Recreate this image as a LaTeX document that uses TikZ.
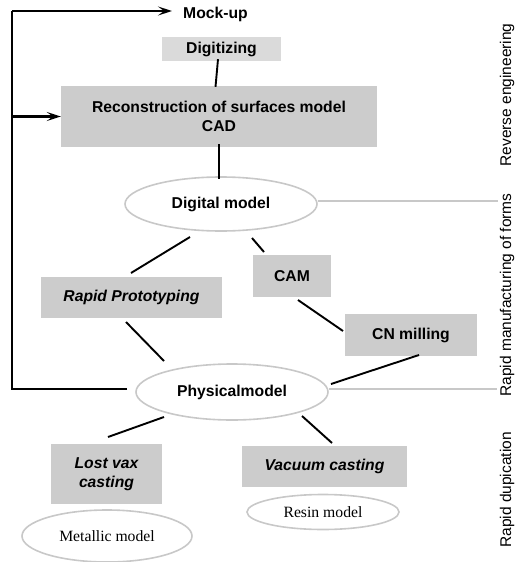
\documentclass[tikz,border=0pt]{standalone}
\usepackage{fontspec}
\setmainfont{Liberation Sans}
\newfontfamily\serifrm{Liberation Serif}
\usetikzlibrary{arrows.meta,shapes.geometric}
\definecolor{boxgray}{HTML}{CCCCCC}
\definecolor{lightbox}{HTML}{DADADA}
\definecolor{linegray}{HTML}{C8C8C8}
\tikzset{
  base/.style={font=\fontsize{15.7}{18.5}\selectfont\bfseries, inner sep=0pt, align=center},
  gbox/.style={base, fill=boxgray},
  ibox/.style={gbox, font=\fontsize{15.7}{19}\selectfont\bfseries\itshape},
  oval/.style={base, ellipse, draw=linegray, line width=1.6pt},
  soval/.style={oval, font=\fontsize{15.7}{18}\selectfont\serifrm},
  conn/.style={line width=1.9pt, black},
  fbline/.style={line width=2.6pt, black},
  tip/.style={-{Stealth[length=14pt,width=9pt,inset=6pt]}},
  gline/.style={line width=2pt, linegray},
  side/.style={font=\fontsize{15.5}{18}\selectfont, rotate=90, inner sep=0pt}
}
\begin{document}
\begin{tikzpicture}[x=1pt,y=-1pt]
\useasboundingbox (0,0) rectangle (514,562);

% nodes
\node[base, anchor=west, inner xsep=11pt] (mock) at (172,14) {Mock-up};
\node[gbox, fill=lightbox, minimum width=119pt, minimum height=24pt] (digit) at (221.5,49) {Digitizing};
\node[gbox, minimum width=316pt, minimum height=61pt] (recon) at (219,116.5) {Reconstruction of surfaces model\\CAD};
\node[oval, minimum width=192pt, minimum height=54pt] (dig) at (221,204) {Digital model};
\node[ibox, minimum width=181pt, minimum height=41pt] (rp) at (131.5,297.5) {Rapid Prototyping};
\node[gbox, minimum width=78pt, minimum height=42pt] (cam) at (292,276) {CAM};
\node[gbox, minimum width=132pt, minimum height=42pt] (cn) at (411,335) {CN milling};
\node[oval, minimum width=192pt, minimum height=56pt] (phys) at (232,392) {Physicalmodel};
\node[ibox, minimum width=111pt, minimum height=60pt] (lost) at (106.5,474) {Lost vax\\casting};
\node[ibox, minimum width=165pt, minimum height=41pt] (vac) at (324.5,466.5) {Vacuum casting};
\node[soval, minimum width=152pt, minimum height=35pt] (resin) at (323,512) {Resin model};
\node[soval, minimum width=170pt, minimum height=52pt] (metal) at (107,536) {Metallic model};

\node[side] (lre) at (507,95) {Reverse engineering};
\node[side] (lrm) at (507,295) {Rapid manufacturing of forms};
\node[side] (lrd) at (507,490) {Rapid dupication};

% feedback frame
\coordinate (ftop) at (12,11);
\coordinate (fmid) at (12,116.5);
\coordinate (fbot) at (12,389);
\draw[fbline] ([xshift=-8pt,yshift=3pt]phys.west) -- (fbot) -- (ftop);
\draw[fbline, tip] (ftop) -- (ftop -| mock.west);
\draw[fbline, tip] (fmid) -- (recon.west);

% connectors
\draw[conn] ([xshift=-3.5pt,yshift=2pt]digit.south) -- ([xshift=-3.5pt,yshift=-1pt]recon.north);
\draw[conn] ([yshift=3pt]recon.south) -- ([yshift=-3pt]recon.south |- dig.north);
\draw[conn] ([shift={(-31,33)}]dig.center) -- ([shift={(-0.5,-24.5)}]rp.center);
\draw[conn] ([shift={(31,34)}]dig.center) -- ([shift={(-28,-24)}]cam.center);
\draw[conn] ([shift={(6,24)}]cam.center) -- ([shift={(-68,-4)}]cn.center);
\draw[conn] ([shift={(8,20)}]cn.center) -- ([shift={(99,-8)}]phys.center);
\draw[conn] ([shift={(-5.5,24.5)}]rp.center) -- ([shift={(-68,-31)}]phys.center);
\draw[conn] ([shift={(-68,25)}]phys.center) -- ([shift={(1.5,-37)}]lost.center);
\draw[conn] ([shift={(70,24)}]phys.center) -- ([shift={(7.5,-23.5)}]vac.center);

% gray side lines
\coordinate (r1) at (498,201);
\coordinate (r2) at (497,389);
\draw[gline] (dig.east |- r1) -- (r1);
\draw[gline] (phys.east |- r2) -- (r2);
\end{tikzpicture}
\end{document}
